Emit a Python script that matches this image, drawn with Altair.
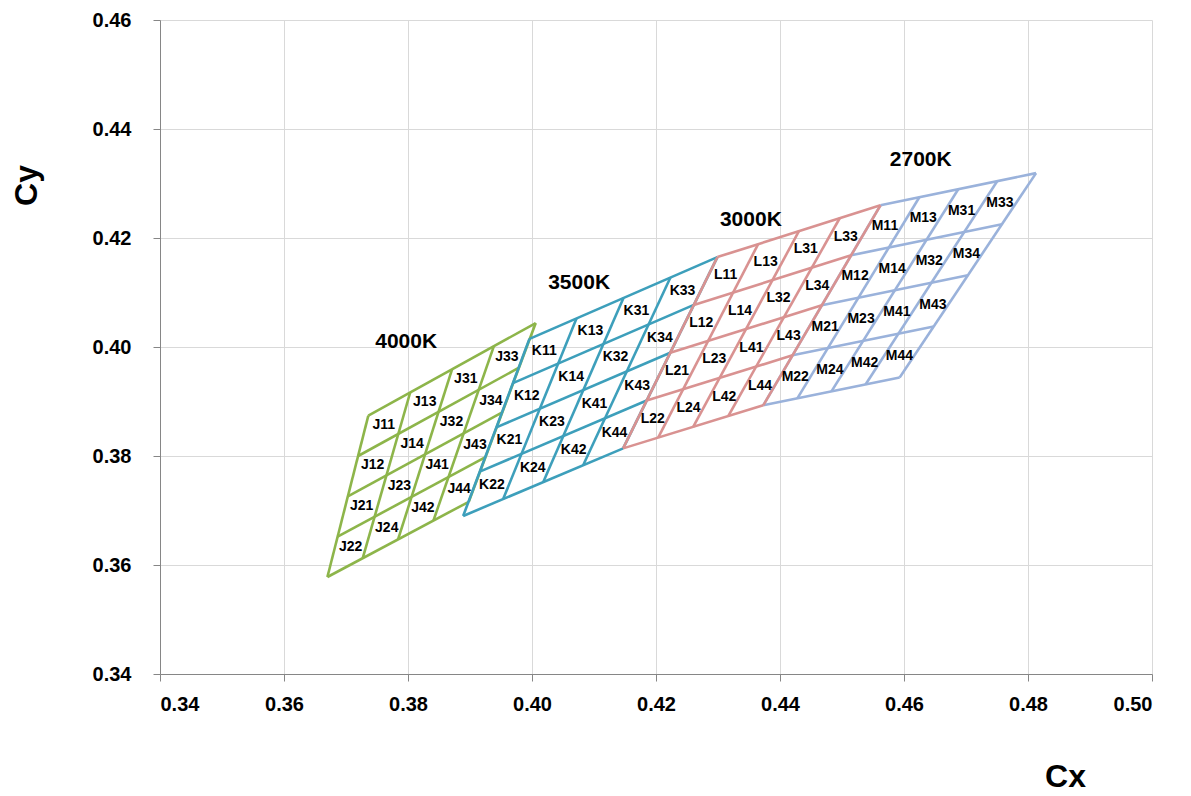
import altair as alt
import pandas as pd

# ANSI-style chromaticity quadrangles (Cx, Cy)
bins = ["J", "K", "L", "M"]
cct_names = ["4000K", "3500K", "3000K", "2700K"]
tl_x = [0.3736, 0.3996, 0.4299, 0.4562]
tl_y = [0.3874, 0.4015, 0.4165, 0.4260]
tr_x = [0.4006, 0.4299, 0.4562, 0.4813]
tr_y = [0.4044, 0.4165, 0.4260, 0.4319]
br_x = [0.3898, 0.4147, 0.4373, 0.4593]
br_y = [0.3716, 0.3814, 0.3893, 0.3944]
bl_x = [0.3670, 0.3889, 0.4147, 0.4373]
bl_y = [0.3578, 0.3690, 0.3814, 0.3893]

# CCT caption positions
cct_x = [0.3797, 0.4076, 0.4353, 0.4627]
cct_y = [0.4009, 0.4117, 0.4233, 0.4343]

colors = ["#8DB54A", "#3D9FBB", "#D99291", "#9AB2DB"]
x_ticks = [0.34, 0.36, 0.38, 0.40, 0.42, 0.44, 0.46, 0.48, 0.50]
y_ticks = [0.34, 0.36, 0.38, 0.40, 0.42, 0.44, 0.46]


def bilinear(k, u, v):
    # u: fraction left->right, v: fraction top->bottom
    x = ((1 - u) * (1 - v) * tl_x[k] + u * (1 - v) * tr_x[k]
         + (1 - u) * v * bl_x[k] + u * v * br_x[k])
    y = ((1 - u) * (1 - v) * tl_y[k] + u * (1 - v) * tr_y[k]
         + (1 - u) * v * bl_y[k] + u * v * br_y[k])
    return x, y


line_rows = []
label_rows = []
for k, b in enumerate(bins):
    for i in range(5):
        t = i / 4
        for j, (u, v) in enumerate([(0, t), (1, t)]):
            x, y = bilinear(k, u, v)
            line_rows.append({"bin": b, "line": f"{b}h{i}", "ord": j, "x": x, "y": y})
        for j, (u, v) in enumerate([(t, 0), (t, 1)]):
            x, y = bilinear(k, u, v)
            line_rows.append({"bin": b, "line": f"{b}v{i}", "ord": j, "x": x, "y": y})
    for r in range(4):
        for c in range(4):
            quad = 1 + (1 if r >= 2 else 0) + (2 if c >= 2 else 0)
            sub = 1 + (r % 2) + 2 * (c % 2)
            x, y = bilinear(k, (c + 0.5) / 4, (r + 0.5) / 4)
            label_rows.append({"x": x, "y": y, "text": f"{b}{quad}{sub}"})

lines_df = pd.DataFrame(line_rows)
labels_df = pd.DataFrame(label_rows)
cct_df = pd.DataFrame({"x": cct_x, "y": cct_y, "text": cct_names})

FONT = "Liberation Sans"

xscale = alt.Scale(domain=[0.34, 0.50], nice=False, zero=False)
yscale = alt.Scale(domain=[0.34, 0.46], nice=False, zero=False)

xaxis = alt.Axis(values=x_ticks, format=".2f", title="Cx", labelFontSize=20,
                 labelFontWeight="bold", labelFont=FONT, labelColor="#000000",
                 labelPadding=13, tickSize=7, tickColor="#868686",
                 domainColor="#868686", gridColor="#D9D9D9",
                 titleFontSize=32, titleFontWeight="bold", titleFont=FONT,
                 titleX=905, titleY=102, titleAnchor="start", titleAlign="center",
                 titleBaseline="middle", titleColor="#000000")
yaxis = alt.Axis(values=y_ticks, format=".2f", title="Cy", labelFontSize=20,
                 labelFontWeight="bold", labelFont=FONT, labelColor="#000000",
                 labelPadding=22, tickSize=7, tickColor="#868686",
                 domainColor="#868686", gridColor="#D9D9D9",
                 titleFontSize=32, titleFontWeight="bold", titleFont=FONT,
                 titleX=-134, titleY=165, titleAngle=-90, titleAlign="center",
                 titleBaseline="middle", titleColor="#000000")

color_scale = alt.Scale(domain=bins, range=colors)

layers = []
for b in ["J", "K", "M", "L"]:
    layers.append(
        alt.Chart(lines_df[lines_df["bin"] == b]).mark_line(strokeWidth=2.6).encode(
            x=alt.X("x:Q", scale=xscale, axis=xaxis),
            y=alt.Y("y:Q", scale=yscale, axis=yaxis),
            color=alt.Color("bin:N", scale=color_scale, legend=None),
            detail="line:N",
            order="ord:Q",
        )
    )

labels = alt.Chart(labels_df).mark_text(
    font=FONT, fontSize=14, fontWeight="bold", color="#000000"
).encode(x=alt.X("x:Q", scale=xscale), y=alt.Y("y:Q", scale=yscale), text="text:N")

cct = alt.Chart(cct_df).mark_text(
    font=FONT, fontSize=21, fontWeight="bold", color="#000000"
).encode(x=alt.X("x:Q", scale=xscale), y=alt.Y("y:Q", scale=yscale), text="text:N")

chart = alt.layer(*layers, labels, cct).properties(
    width=992, height=654,
    autosize=alt.AutoSizeParams(type="none"),
    padding={"left": 160, "top": 20, "right": 39, "bottom": 122},
    background="#FFFFFF",
).configure_view(stroke=None)

chart.save("out.html", embed_options={"renderer": "svg", "actions": False})
